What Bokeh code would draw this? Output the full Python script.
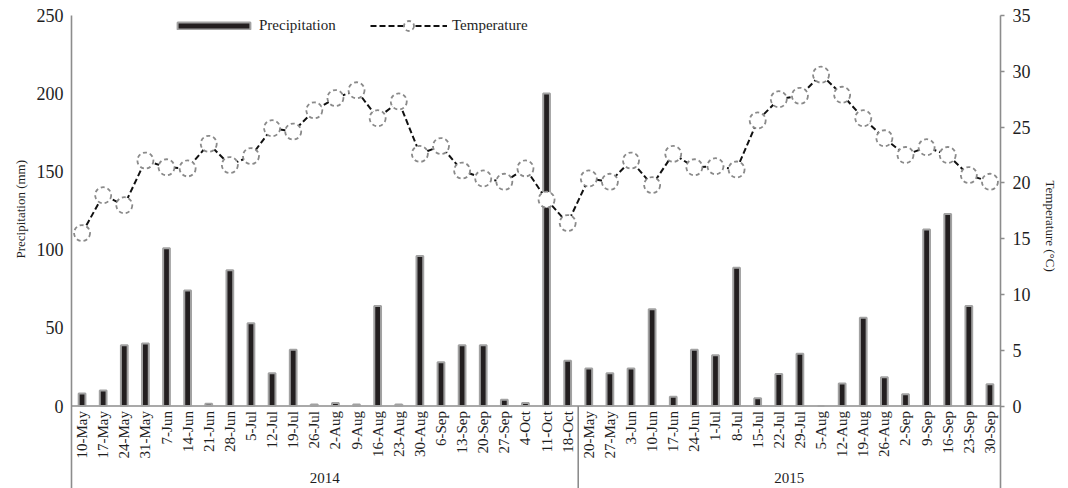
import numpy as np
from bokeh.plotting import figure
from bokeh.models import (Range1d, LinearAxis, FixedTicker, Legend, LegendItem,
                          ColumnDataSource, Title)
from bokeh.core.properties import value
from bokeh.embed import file_html
from bokeh.resources import INLINE

# ---------------- data ----------------
years = ["2014", "2015"]
dates_2014 = ["10-May", "17-May", "24-May", "31-May", "7-Jun", "14-Jun", "21-Jun", "28-Jun",
              "5-Jul", "12-Jul", "19-Jul", "26-Jul", "2-Aug", "9-Aug", "16-Aug", "23-Aug",
              "30-Aug", "6-Sep", "13-Sep", "20-Sep", "27-Sep", "4-Oct", "11-Oct", "18-Oct"]
dates_2015 = ["20-May", "27-May", "3-Jun", "10-Jun", "17-Jun", "24-Jun", "1-Jul", "8-Jul",
              "15-Jul", "22-Jul", "29-Jul", "5-Aug", "12-Aug", "19-Aug", "26-Aug", "2-Sep",
              "9-Sep", "16-Sep", "23-Sep", "30-Sep"]
precip_2014 = [8, 10, 39, 40, 101, 74, 1.5, 87, 53, 21, 36, 1, 2, 1, 64, 1,
               96, 28, 39, 39, 4, 2, 200, 29]
precip_2015 = [24, 21, 24, 62, 6, 36, 32.5, 88.5, 5, 20.5, 33.5, 0, 14.5, 56.5, 18.5, 7.5,
               113, 123, 64, 14]
temp_2014 = [15.5, 18.9, 18.0, 22.0, 21.4, 21.3, 23.5, 21.6, 22.4, 24.9, 24.6, 26.5, 27.6,
             28.3, 25.8, 27.3, 22.6, 23.3, 21.1, 20.4, 20.1, 21.3, 18.5, 16.4]
temp_2015 = [20.4, 20.1, 22.0, 19.8, 22.6, 21.4, 21.5, 21.2, 25.6, 27.5, 27.8, 29.7, 27.9,
             25.8, 24.0, 22.5, 23.2, 22.5, 20.7, 20.1]
y_title = "Precipitation (mm)"
y2_title = "Temperature (\u00b0C)"

dates = dates_2014 + dates_2015
precip = precip_2014 + precip_2015
temp = temp_2014 + temp_2015
idx = list(range(len(dates)))
n14 = len(dates_2014)
n15 = len(dates_2015)

FONT_NAME = "Liberation Serif"
FONT = value(FONT_NAME)
AXIS_COL = "#8c8c8c"
TXT = "#1e1e1e"

Y_MIN = -52.76
Y_MAX = 250
T_MAX = 35
T_MIN = Y_MIN * T_MAX / Y_MAX
X_MIN = -0.5
X_MAX = len(dates) - 0.5

p = figure(width=1068, height=488, output_backend="svg", toolbar_location=None,
           x_axis_location=None, x_range=Range1d(X_MIN, X_MAX),
           y_range=Range1d(Y_MIN, Y_MAX),
           min_border_left=71, min_border_right=67, min_border_top=15, min_border_bottom=0)
p.outline_line_color = None
p.xgrid.visible = False
p.ygrid.visible = False
p.background_fill_color = "white"

p.extra_y_ranges = {"temp": Range1d(T_MIN, T_MAX)}

# left axis
ya = p.yaxis[0]
ya.ticker = FixedTicker(ticks=[0, 50, 100, 150, 200, 250])
ya.minor_tick_line_color = None
ya.major_tick_out = 0
ya.major_tick_in = 0
ya.major_label_standoff = 8
ya.axis_line_color = AXIS_COL
ya.axis_line_width = 1.6
ya.major_label_text_font = FONT_NAME
ya.major_label_text_font_size = "18px"
ya.major_label_text_color = TXT

# right axis
ra = LinearAxis(y_range_name="temp", ticker=FixedTicker(ticks=[0, 5, 10, 15, 20, 25, 30, 35]))
ra.minor_tick_line_color = None
ra.major_tick_out = 4
ra.major_tick_in = 0
ra.major_tick_line_color = AXIS_COL
ra.major_tick_line_width = 1.5
ra.major_label_standoff = 8
ra.axis_line_color = AXIS_COL
ra.axis_line_width = 1.6
ra.major_label_text_font = FONT_NAME
ra.major_label_text_font_size = "18px"
ra.major_label_text_color = TXT
p.add_layout(ra, "right")

# axis titles as side titles (placed on the positive part of the axes, as in the original)
p.add_layout(Title(text=y_title, align="left", offset=230, standoff=11,
                   text_font=FONT_NAME, text_font_size="13px", text_font_style="normal",
                   text_color=TXT), "left")
p.add_layout(Title(text=y2_title, align="left", offset=165, standoff=18,
                   text_font=FONT_NAME, text_font_size="13px", text_font_style="normal",
                   text_color=TXT), "right")

# baseline and group separator
p.segment(x0=[X_MIN], y0=[0], x1=[X_MAX], y1=[0], line_color=AXIS_COL, line_width=1.6)
p.segment(x0=[n14 - 0.5], y0=[0], x1=[n14 - 0.5], y1=[Y_MIN], line_color=AXIS_COL, line_width=1.6)

src = ColumnDataSource(dict(x=idx, precip=precip, temp=temp, date=dates))

bars = p.vbar(x="x", top="precip", bottom=0, width=0.32, source=src,
              fill_color="#231f20", line_color="#a2a2a2", line_width=2)

line = p.line(x="x", y="temp", source=src, y_range_name="temp",
              line_color="#111111", line_width=2, line_dash="6 3")
pts = p.scatter(x="x", y="temp", source=src, y_range_name="temp", size=16,
                fill_color="white", line_color="#8a8a8a", line_width=1.8, line_dash="4 3")

# category labels
p.text(x="x", y=0, text="date", source=src, angle=np.pi / 2, text_align="right",
       text_baseline="middle", text_font=FONT, text_font_size="15px", text_color=TXT,
       y_offset=5)

# group labels
p.text(x=[(n14 - 1) / 2, n14 + (n15 - 1) / 2], y=[-46.3, -46.3], text=years,
       text_align="center", text_baseline="middle", text_font=FONT,
       text_font_size="15px", text_color=TXT)

# legends
leg1 = Legend(items=[LegendItem(label="Precipitation", renderers=[bars])],
              location=(97, 454), orientation="horizontal",
              glyph_width=91, glyph_height=9, label_standoff=0, padding=0, margin=0,
              border_line_color=None, background_fill_alpha=0,
              label_text_font=FONT_NAME, label_text_font_size="15px",
              label_text_color=TXT)
leg2 = Legend(items=[LegendItem(label="Temperature", renderers=[line, pts])],
              location=(299, 450), orientation="horizontal",
              glyph_width=77, glyph_height=25, label_standoff=5, padding=0, margin=0,
              border_line_color=None, background_fill_alpha=0,
              label_text_font=FONT_NAME, label_text_font_size="15px",
              label_text_color=TXT)
p.add_layout(leg1)
p.add_layout(leg2)

open("out.html", "w").write(file_html(p, INLINE))
